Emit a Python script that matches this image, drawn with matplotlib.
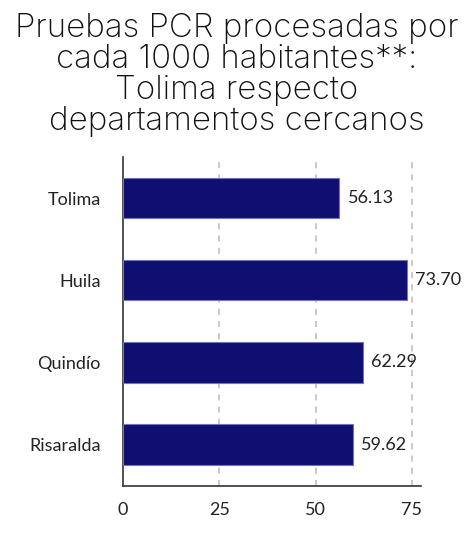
import matplotlib
matplotlib.use("Agg")
import matplotlib.pyplot as plt

categories = ["Tolima", "Huila", "Quindío", "Risaralda"]
values = [56.13, 73.70, 62.29, 59.62]
xticks = [0, 25, 50, 75]
title = "Pruebas PCR procesadas por\ncada 1000 habitantes**:\nTolima respecto\ndepartamentos cercanos"

W, H = 474, 551
fig = plt.figure(figsize=(W / 100, H / 100), dpi=100)
ax = fig.add_axes([123 / W, 1 - 485.7 / H, (421 - 123) / W, (485.7 - 157) / H])

ypos = list(range(len(categories)))
ax.barh(ypos, values, height=0.49, color="#0f0f72", edgecolor="#7272c0", linewidth=0.8, zorder=3)
ax.set_ylim(len(categories) - 0.5, -0.5)
ax.set_xlim(0, 77.4)
ax.set_yticks(ypos)
ax.set_yticklabels(categories, fontsize=13, family="Lato", color="#222222")
ax.set_xticks(xticks)
ax.set_xticklabels([str(t) for t in xticks], fontsize=13, family="Lato", color="#222222")
ax.tick_params(axis="both", length=0)
ax.tick_params(axis="y", pad=16)
ax.tick_params(axis="x", pad=12)
for t in xticks[1:]:
    ax.axvline(t, color="#bbbbbb", linestyle=(0, (4, 4)), linewidth=1.1, zorder=1)
for s in ["top", "right"]:
    ax.spines[s].set_visible(False)
for s in ["left", "bottom"]:
    ax.spines[s].set_color("#333333")
    ax.spines[s].set_linewidth(1.2)
for y, v in zip(ypos, values):
    ax.text(v + 2.2, y, f"{v:.2f}", va="center", ha="left", fontsize=13, family="Lato", color="#222222", zorder=4)

fig.text(0.5, 1 - 75 / H, title, ha="center", va="center", fontsize=23.8, family="Inter",
         fontweight="light", linespacing=1.0, color="#111111")

fig.savefig("out.png", dpi=100, facecolor="white")
